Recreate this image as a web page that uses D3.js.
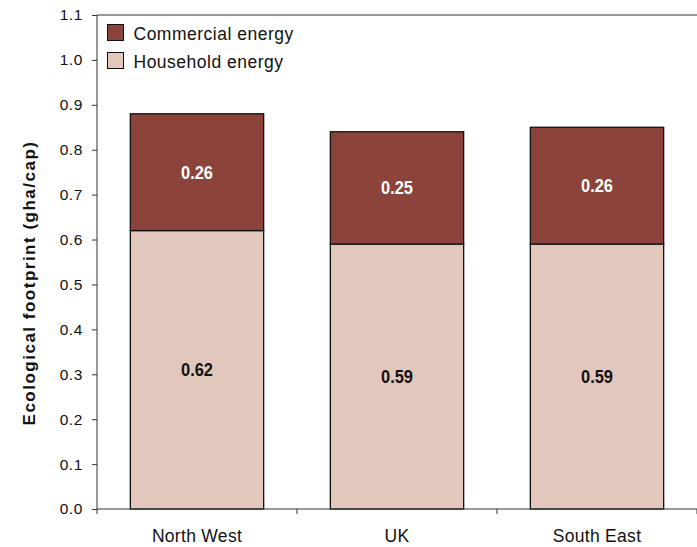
<!DOCTYPE html>
<html>
<head>
<meta charset="utf-8">
<script src="https://cdn.jsdelivr.net/npm/d3@7"></script>
<style>
  html, body { margin: 0; padding: 0; background: #fff; }
  svg { display: block; }
</style>
</head>
<body>
<svg id="chart" width="697" height="547"></svg>
<script>
// Regions compared
const regions = ["North West", "UK", "South East"];
// Footprint components (gha per capita)
const household = [0.62, 0.59, 0.59];
const commercial = [0.26, 0.25, 0.26];
const yTicks = [0.0, 0.1, 0.2, 0.3, 0.4, 0.5, 0.6, 0.7, 0.8, 0.9, 1.0, 1.1];
const seriesNames = ["Commercial energy", "Household energy"];

const colors = { commercial: "#8b433b", household: "#e2c8bc" };
const FONT = "'Liberation Sans', Arial, Helvetica, sans-serif";
const svg = d3.select("#chart");
const margin = { left: 97, right: 0, top: 15, bottom: 38 };
const W = 697, H = 547;

const x = d3.scaleBand().domain(regions).range([margin.left, W - margin.right]).paddingInner(1/3).paddingOuter(1/6);
const xEdge = d3.scalePoint().domain(d3.range(regions.length + 1)).range([margin.left, W - margin.right]);
const y = d3.scaleLinear().domain([0, 1.1]).range([H - margin.bottom, margin.top]);

const rows = regions.map((r, i) => ({ region: r, household: household[i], commercial: commercial[i] }));
const stack = d3.stack().keys(["household", "commercial"])(rows);

// top edge of the plot frame
svg.append("line")
  .attr("x1", margin.left).attr("x2", W).attr("y1", y(1.1)).attr("y2", y(1.1))
  .attr("stroke", "#333").attr("stroke-width", 1);

// stacked bars
stack.forEach(layer => {
  svg.append("g").selectAll("rect").data(layer).join("rect")
    .attr("x", d => x(d.data.region))
    .attr("width", x.bandwidth())
    .attr("y", d => y(d[1]))
    .attr("height", d => y(d[0]) - y(d[1]))
    .attr("fill", colors[layer.key])
    .attr("stroke", "#111").attr("stroke-width", 1.3);
});

// value labels (condensed bold)
stack.forEach(layer => {
  svg.append("g").selectAll("text").data(layer).join("text")
    .attr("x", d => x(d.data.region) + x.bandwidth() / 2)
    .attr("y", d => (y(d[0]) + y(d[1])) / 2 + 6.5)
    .attr("text-anchor", "middle")
    .attr("font-family", FONT)
    .attr("font-weight", "bold")
    .attr("font-size", 18)
    .attr("textLength", 32)
    .attr("lengthAdjust", "spacingAndGlyphs")
    .attr("fill", layer.key === "commercial" ? "#fff" : "#111")
    .text(d => (d[1] - d[0]).toFixed(2));
});

// y axis
const yAxis = svg.append("g").attr("transform", `translate(${margin.left},0)`)
  .call(d3.axisLeft(y).tickValues(yTicks).tickFormat(d3.format(".1f")).tickSize(5).tickPadding(9));
yAxis.select(".domain").attr("stroke", "#333").attr("d", `M0,${y(0)}V${y(1.1)}`);
yAxis.selectAll(".tick line").attr("stroke", "#333");
yAxis.selectAll("text").attr("font-family", FONT).attr("font-size", 15.5)
  .attr("letter-spacing", 0.6).attr("fill", "#111");

// x axis: baseline, boundary ticks and category labels
const xg = svg.append("g");
xg.append("line").attr("x1", margin.left).attr("x2", W).attr("y1", y(0)).attr("y2", y(0)).attr("stroke", "#333");
xg.selectAll("line.edge").data(d3.range(regions.length + 1)).join("line").attr("class", "edge")
  .attr("x1", d => xEdge(d)).attr("x2", d => xEdge(d))
  .attr("y1", y(0)).attr("y2", y(0) + 5).attr("stroke", "#333");
xg.selectAll("text").data(regions).join("text")
  .attr("x", d => x(d) + x.bandwidth() / 2)
  .attr("y", 542)
  .attr("text-anchor", "middle")
  .attr("font-family", FONT)
  .attr("font-size", 17.5).attr("letter-spacing", 0.3).attr("fill", "#111")
  .text(d => d);

// y title
svg.append("text")
  .attr("transform", `translate(35,283) rotate(-90)`)
  .attr("text-anchor", "middle")
  .attr("font-family", FONT)
  .attr("font-weight", "bold").attr("font-size", 17).attr("letter-spacing", 1.5).attr("fill", "#111")
  .text("Ecological footprint (gha/cap)");

// legend
const legendColors = [colors.commercial, colors.household];
const lg = svg.append("g").selectAll("g").data(seriesNames).join("g")
  .attr("transform", (d, i) => `translate(107.5,${24.5 + i * 28})`);
lg.append("rect").attr("width", 16).attr("height", 16)
  .attr("fill", (d, i) => legendColors[i]).attr("stroke", "#111").attr("stroke-width", 1);
lg.append("text").attr("x", 26).attr("y", 15)
  .attr("font-family", FONT)
  .attr("font-size", 17.5).attr("letter-spacing", 0.5).attr("fill", "#111")
  .text(d => d);
</script>
</body>
</html>
